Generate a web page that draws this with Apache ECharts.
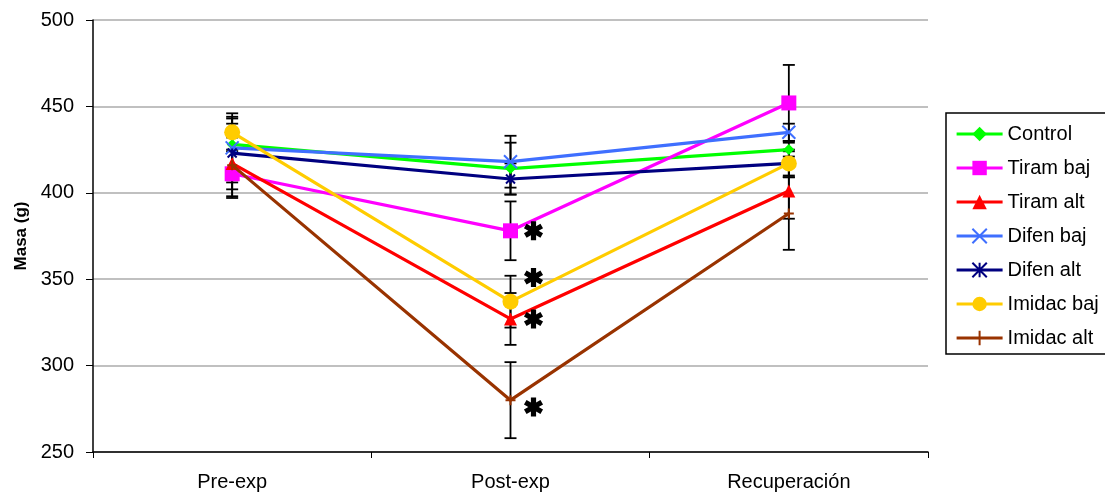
<!DOCTYPE html>
<html>
<head>
<meta charset="utf-8">
<script src="https://cdn.jsdelivr.net/npm/echarts@6/dist/echarts.min.js"></script>
<style>html,body{margin:0;padding:0;background:#fff;}#c{width:1105px;height:495px;}</style>
</head>
<body>
<div id="c"></div>
<script>
const categories = ['Pre-exp', 'Post-exp', 'Recuperación'];
const seriesNames = ['Control', 'Tiram baj', 'Tiram alt', 'Difen baj', 'Difen alt', 'Imidac baj', 'Imidac alt'];
const control   = [428, 414, 425];
const tiramBaj  = [411, 378, 452];
const tiramAlt  = [417, 327, 401];
const difenBaj  = [426, 418, 435];
const difenAlt  = [423, 408, 417];
const imidacBaj = [435, 337, 417];
const imidacAlt = [416, 280, 388];
const errControl   = [16, 15, 4];
const errTiramBaj  = [14, 17, 22];
const errTiramAlt  = [15, 15, 16];
const errDifenBaj  = [17, 15, 5];
const errDifenAlt  = [17, 9, 8];
const errImidacBaj = [11, 15, 7];
const errImidacAlt = [18, 22, 21];
// significance asterisks: [category index, value]
const starCats = [1, 1, 1, 1];
const starVals = [378, 351, 327, 276];
const yTicks = [250, 300, 350, 400, 450, 500];

const FONT = 'Liberation Sans, Arial, sans-serif';
const values = [control, tiramBaj, tiramAlt, difenBaj, difenAlt, imidacBaj, imidacAlt];
const errors = [errControl, errTiramBaj, errTiramAlt, errDifenBaj, errDifenAlt, errImidacBaj, errImidacAlt];
const colors = ['#00ff00', '#ff00ff', '#ff0000', '#3f6fff', '#000080', '#ffcc00', '#993300'];
const xPath = 'path://M0,0L10,10M10,0L0,10';
const astPath = 'path://M0,0L10,10M10,0L0,10M5,0L5,10';
const plusPath = 'path://M5,0L5,10M3,5L7,5';
const symbols = ['diamond', 'rect', 'triangle', xPath, astPath, 'circle', plusPath];
const symSizes = [11, 15, 13, 13, 9, 16, 10];

// six-armed bold asterisk outline, relative to its centre (shape only)
function starPoints(cx, cy, L, w) {
  const pts = [];
  for (let k = 0; k < 6; k++) {
    const t = (-90 + 60 * k) * Math.PI / 180;
    const d = [Math.cos(t), Math.sin(t)], p = [-Math.sin(t), Math.cos(t)];
    pts.push([cx + L * d[0] - w * p[0], cy + L * d[1] - w * p[1]]);
    pts.push([cx + L * d[0] + w * p[0], cy + L * d[1] + w * p[1]]);
    const ti = t + Math.PI / 6;
    pts.push([cx + 2 * w * Math.cos(ti), cy + 2 * w * Math.sin(ti)]);
  }
  return pts;
}

const errData = [];
values.forEach((arr, s) => arr.forEach((v, i) => errData.push([i, v - errors[s][i], v + errors[s][i]])));

const series = [{
  type: 'custom',
  name: 'err',
  z: 1,
  silent: true,
  data: errData,
  renderItem: function (params, api) {
    const x = api.value(0);
    const lo = api.coord([x, api.value(1)]);
    const hi = api.coord([x, api.value(2)]);
    const w = 6;
    const st = { stroke: '#000', lineWidth: 1.8 };
    return { type: 'group', children: [
      { type: 'line', shape: { x1: lo[0], y1: lo[1], x2: hi[0], y2: hi[1] }, style: st },
      { type: 'line', shape: { x1: lo[0] - w, y1: lo[1], x2: lo[0] + w, y2: lo[1] }, style: st },
      { type: 'line', shape: { x1: hi[0] - w, y1: hi[1], x2: hi[0] + w, y2: hi[1] }, style: st }
    ]};
  }
}];
seriesNames.forEach((n, s) => {
  const isStroke = s === 3 || s === 4 || s === 6;
  series.push({
    type: 'line', name: n, data: values[s], z: 3 + s,
    symbol: symbols[s], symbolSize: symSizes[s], showAllSymbol: true,
    lineStyle: { color: colors[s], width: 3.2 },
    itemStyle: isStroke ? { color: colors[s], borderColor: colors[s], borderWidth: 2 } : { color: colors[s], borderWidth: 0 }
  });
});
series.push({
  type: 'custom', name: 'stars', z: 20, silent: true,
  data: starCats.map((c, i) => [c, starVals[i]]),
  renderItem: function (params, api) {
    const pt = api.coord([api.value(0), api.value(1)]);
    return { type: 'polygon', shape: { points: starPoints(pt[0] + 23, pt[1], 9.5, 2.6) }, style: { fill: '#000' } };
  }
});

const chart = echarts.init(document.getElementById('c'), null, { renderer: 'canvas' });
chart.setOption({
  animation: false,
  backgroundColor: '#fff',
  textStyle: { fontFamily: FONT },
  grid: { left: 93, right: 177, top: 20, bottom: 43, containLabel: false },
  legend: {
    data: seriesNames, orient: 'vertical', left: 946, top: 113,
    padding: [11, 7, 6, 9], itemGap: 14, itemWidth: 46, itemHeight: 18,
    borderColor: '#000', borderWidth: 1.5,
    lineStyle: { width: 3.2 },
    textStyle: { fontSize: 20, color: '#000', fontFamily: FONT }
  },
  xAxis: {
    type: 'category', data: categories, boundaryGap: true,
    axisLine: { lineStyle: { color: '#000', width: 1.5 } },
    axisTick: { show: true, alignWithLabel: false, length: 6, lineStyle: { color: '#000' } },
    axisLabel: { fontSize: 20, color: '#000', margin: 20, fontFamily: FONT },
    splitLine: { show: false }
  },
  yAxis: {
    type: 'value', min: 250, max: 500, interval: 50,
    name: 'Masa (g)', nameLocation: 'middle', nameGap: 60, nameRotate: 90,
    nameTextStyle: { fontSize: 17, fontWeight: 'bold', color: '#000', fontFamily: FONT },
    axisLine: { show: true, lineStyle: { color: '#000', width: 1.5 } },
    axisTick: { show: true, length: 7, lineStyle: { color: '#000' } },
    axisLabel: { fontSize: 20, color: '#000', margin: 19, fontFamily: FONT, formatter: v => yTicks.includes(v) ? String(v) : '' },
    splitLine: { show: true, lineStyle: { color: '#c0c0c0', width: 2 } }
  },
  series: series
});
</script>
</body>
</html>
